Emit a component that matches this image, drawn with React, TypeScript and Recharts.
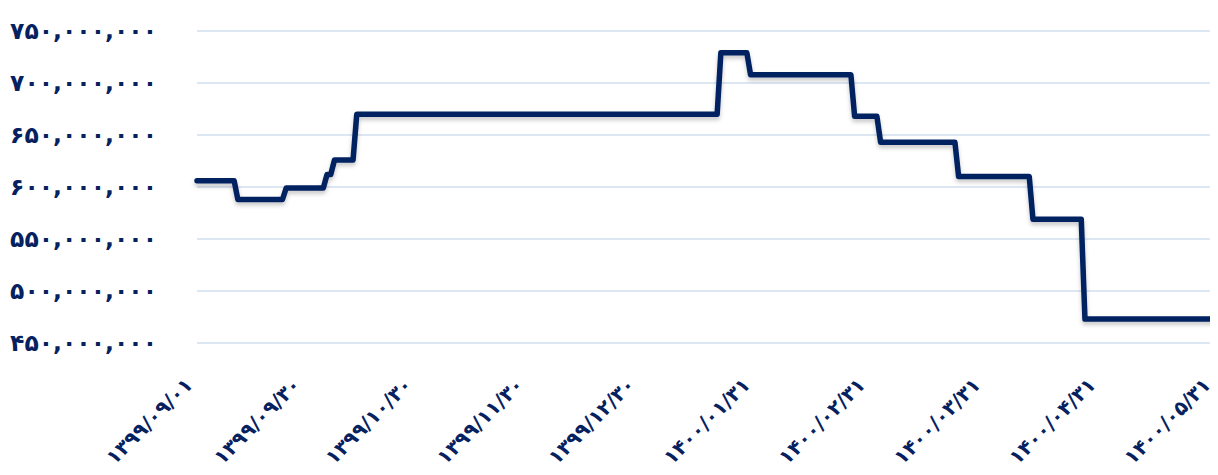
import React from 'react';
import { LineChart, Line, XAxis, YAxis, CartesianGrid } from 'recharts';

// Day index counted from 1399/09/01
const dayIndex = [0, 10, 11, 23, 24, 34, 35, 36, 37, 42, 43, 140, 141, 148, 149, 176, 177, 183, 184, 204, 205, 224, 225, 238, 239, 274];
// Values (rial)
const priceValues = [
  606000000, 606000000, 588000000, 588000000, 599000000, 599000000, 612000000, 612000000, 626000000, 626000000,
  670000000, 670000000, 729000000, 729000000, 708000000, 708000000, 668000000, 668000000, 643000000, 643000000,
  610000000, 610000000, 569000000, 569000000, 473000000, 473000000,
];

const xTickDays = [0, 29, 59, 89, 119, 150, 181, 212, 243, 274];
const xTickLabels = [
  '۱۳۹۹/۰۹/۰۱', '۱۳۹۹/۰۹/۳۰', '۱۳۹۹/۱۰/۳۰', '۱۳۹۹/۱۱/۳۰', '۱۳۹۹/۱۲/۳۰',
  '۱۴۰۰/۰۱/۳۱', '۱۴۰۰/۰۲/۳۱', '۱۴۰۰/۰۳/۳۱', '۱۴۰۰/۰۴/۳۱', '۱۴۰۰/۰۵/۳۱',
];

const yTicks = [450000000, 500000000, 550000000, 600000000, 650000000, 700000000, 750000000];
const yTickLabels = ['۴۵۰,۰۰۰,۰۰۰', '۵۰۰,۰۰۰,۰۰۰', '۵۵۰,۰۰۰,۰۰۰', '۶۰۰,۰۰۰,۰۰۰', '۶۵۰,۰۰۰,۰۰۰', '۷۰۰,۰۰۰,۰۰۰', '۷۵۰,۰۰۰,۰۰۰'];

const data = dayIndex.map((d, i) => ({ day: d, value: priceValues[i] }));

const NAVY = '#062160';
const FONT = '"DejaVu Sans", sans-serif';

const XTick = (props: any) => {
  const { x, y, payload } = props;
  const idx = xTickDays.indexOf(payload.value);
  const label = idx >= 0 ? xTickLabels[idx] : '';
  const ax = x - 3;
  const ay = y + 43;
  return (
    <text
      x={ax}
      y={ay}
      textAnchor="end"
      transform={`rotate(-45, ${ax}, ${ay})`}
      fill={NAVY}
      fontSize={20}
      fontWeight="bold"
      fontFamily={FONT}
    >
      {label}
    </text>
  );
};

export default function App() {
  return (
    <LineChart width={1210} height={467} data={data} margin={{ top: 23, right: 3, bottom: 0, left: 0 }}>
      <defs>
        <filter id="lineShadow" x="-5%" y="-20%" width="110%" height="140%">
          <feDropShadow dx="0" dy="3" stdDeviation="2" floodColor="#000000" floodOpacity="0.22" />
        </filter>
      </defs>
      <CartesianGrid vertical={false} stroke="#dde7f3" strokeWidth={2} />
      <XAxis
        dataKey="day"
        type="number"
        domain={[0, 274]}
        ticks={xTickDays}
        interval={0}
        axisLine={false}
        tickLine={false}
        tickSize={0}
        tickMargin={0}
        height={132}
        tick={<XTick />}
      />
      <YAxis
        type="number"
        domain={[450000000, 750000000]}
        ticks={yTicks}
        interval={0}
        axisLine={false}
        tickLine={false}
        tickSize={0}
        tickMargin={40}
        width={189}
        tickFormatter={(v: number) => {
          const i = yTicks.indexOf(v);
          return i >= 0 ? yTickLabels[i] : '';
        }}
        tick={{ fill: NAVY, fontSize: 23.5, fontWeight: 'bold', fontFamily: FONT }}
      />
      <Line
        type="linear"
        dataKey="value"
        stroke={NAVY}
        strokeWidth={5.5}
        dot={false}
        activeDot={false}
        strokeLinecap="round"
        strokeLinejoin="round"
        filter="url(#lineShadow)"
        isAnimationActive={false}
      />
    </LineChart>
  );
}
